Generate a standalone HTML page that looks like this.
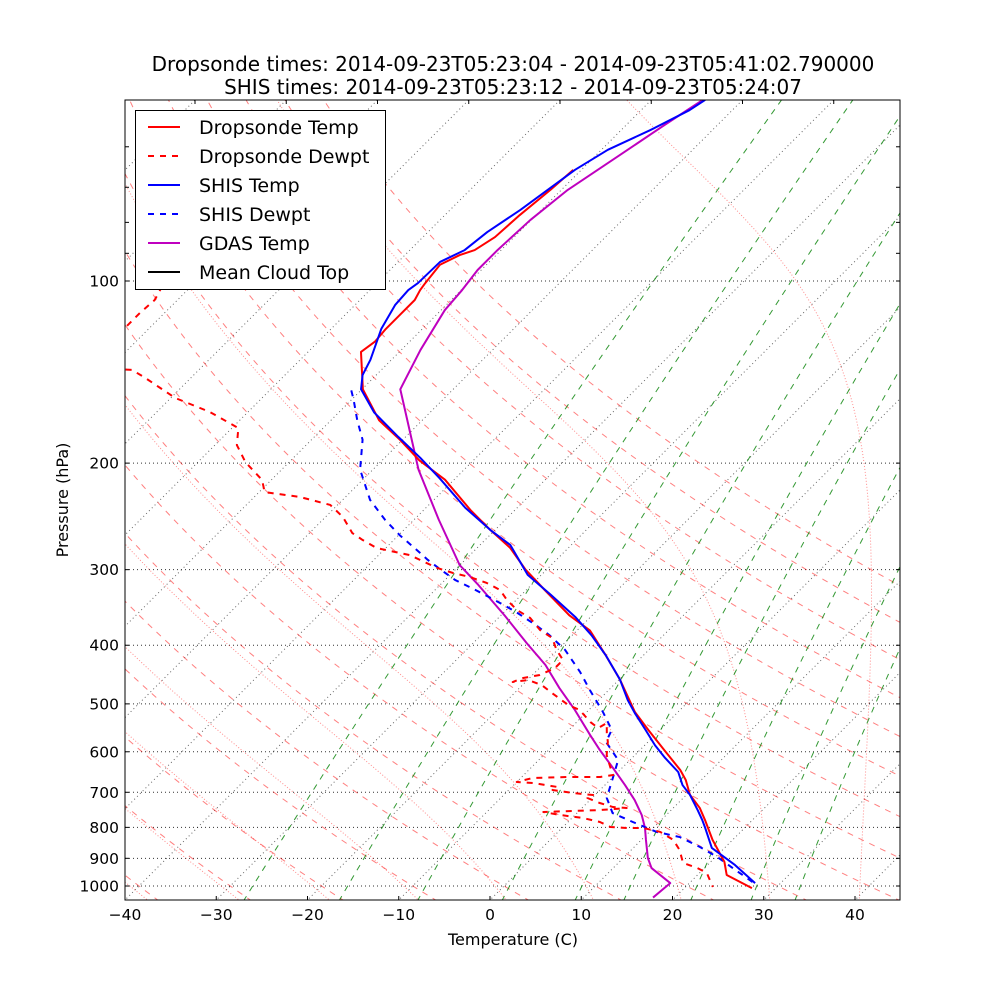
<!DOCTYPE html>
<html><head><meta charset="utf-8"><style>
html,body{margin:0;padding:0;background:#fff;}
svg{display:block;font-family:"DejaVu Sans","Liberation Sans",sans-serif;}
</style></head><body>
<svg id="chart" width="1000" height="1000" viewBox="0 0 1000 1000" xmlns="http://www.w3.org/2000/svg">
<rect x="0" y="0" width="1000" height="1000" fill="#fff"/>
<defs><clipPath id="plotclip"><rect x="125" y="100" width="775" height="800"/></clipPath></defs>
<text x="513" y="71" text-anchor="middle" font-size="20">Dropsonde times: 2014-09-23T05:23:04 - 2014-09-23T05:41:02.790000</text>
<text x="513" y="94" text-anchor="middle" font-size="20">SHIS times: 2014-09-23T05:23:12 - 2014-09-23T05:24:07</text>
<g id="bg" clip-path="url(#plotclip)"></g>
<g id="data" clip-path="url(#plotclip)"></g>
<g id="axes"></g>
<text x="513" y="945" text-anchor="middle" font-size="16">Temperature (C)</text>
<text x="68" y="500" text-anchor="middle" font-size="16" transform="rotate(-90 68 500)">Pressure (hPa)</text>
<g id="legend"></g>
</svg>
<script>
// ---- data (pressure hPa, temperature C) ----
const dropP=[1008,959,912,839,778,743,707,668,643,600,552,516,456,415,378,357,324,300,276,258,239,213,198,183,170,151,131,126,120,114,107.5,103.5,100.8,94,90.6,88.9,84.6,77.8,70.7,65.5];
const dropT=[27.4,23.2,21.5,17.8,14.8,12.9,10.4,8.3,6.6,3.0,-1.3,-4.7,-9.9,-14.2,-18.6,-22.5,-28,-32.3,-36.4,-40.5,-44.9,-51,-55.9,-60.3,-64.7,-69.9,-74.2,-73.8,-74,-74,-74,-74.5,-74.7,-75.1,-74,-72.9,-72.1,-71.8,-71.2,-70.9];
const dropDP=[95,102.7,107.5,112.9,119.1,125,138,140.3,144.6,156.1,164.6,175,186.7,199.2,213.3,223.3,227.5,234.5,245.5,261,268,276.3,283.8,298,303.8,308.5,315.6,324,336.8,349.9,360.6,377.5,389.1,407.3,423.1,436.3,447.9,453.1,460.1,456.6,465.4,479.7,502.1,511.8,535.8,548.1,537.8,558.6,578.1,607.5,635.8,655.4,660.4,660.4,663,673.1,675.7,686,694,702,707.3,715.4,729.2,740.4,743.3,749,751.6,754.6,763.2,772,783.8,798.8,801.8,801.8,814,839,872,916.2,933.6,951.7,977.5,1003.8];
const dropTd=[-103.5,-103.1,-102.5,-102.7,-102.7,-110,-105,-97.3,-95,-89.5,-84.2,-79.3,-77.6,-74.8,-71,-69.4,-65,-60.8,-58.1,-55.3,-53.4,-51,-46.6,-42.2,-39.9,-37.6,-35.1,-32.9,-31,-28.8,-26.5,-24.1,-21.9,-20.1,-18.3,-18.3,-19.2,-20.7,-21.4,-19.9,-17.9,-15.9,-12.8,-11,-8.5,-7,-6.6,-5.5,-4.4,-3.1,-1.4,-0.2,-1.4,-5,-8.7,-10,-8.1,-5,-5.2,-2.6,-0.2,-0.5,1.4,3.3,4.9,2.2,-0.7,-3.8,-1.6,1.2,3.5,5.2,7.1,8.9,11.2,13.5,15.3,17.1,19.2,20.8,21.9,23];
const shisP=[989,923,865,802,778,749,707,681,648,614,585,552,518,493,456,415,385,359,330,306,273,258,237,212,196,181,165,151,143,135,120,109.6,103.5,100.8,93,88.9,83,76.3,65.5,60.7,56.3,52.2,50.2];
const shisT=[27.2,23,18.6,15.7,14.5,12.9,10.4,8.5,6.6,3.6,1.1,-1.6,-4.6,-6.8,-9.9,-14.2,-17.9,-21.7,-26.8,-31.5,-36.7,-40.5,-45.7,-51.7,-56.1,-60.8,-66.1,-70.1,-71.5,-72.3,-74.5,-75.6,-75.8,-75.5,-75.4,-74,-73.5,-72.3,-70.7,-69.3,-66.8,-64.7,-64.1];
const shisDP=[985,934,895.5,862,830,814,783.8,757.5,715,660,619,578,552,516,474,443,407,385,370,352,337,324,312,300,289,281,263,248,230,205,183,170,157,151];
const shisTd=[26.8,23.1,20.2,17.2,13.9,10.8,7.1,3.9,1.6,0,-1.3,-4.6,-5.3,-8.2,-12.1,-15.1,-19.2,-22.5,-25.2,-28.8,-32.3,-35.6,-38.9,-41.6,-44.1,-45.8,-49.9,-53.2,-57,-61.4,-64.4,-67.1,-69.8,-71.2];
const gdasP=[1045,989,934,899,839,802,763,721,681,638,596,563,512,471,431,397,357,318,295,248,205,151,130,111.7,103.5,95.9,88.9,79.3,70.7,61.9,55.2,50];
const gdasT=[17.6,17.9,14.2,12.7,10.5,9.1,7.3,4.9,2.2,-1,-4.4,-7.1,-11.5,-15.6,-19.7,-24.1,-29.6,-35.8,-40,-47.3,-55,-65.8,-67.9,-69.6,-69.9,-70.4,-70.4,-70.1,-69.3,-67.4,-65.8,-64.3];
const xTicks=[-40,-30,-20,-10,0,10,20,30,40];
const yTickLabels=[100,200,300,400,500,600,700,800,900,1000];
const yMinorTicks=[60,70,80,90];
const dryThetaC=[-60,-50,-40,-30,-20,-10,0,10,20,30,40,50,60,70,80,90,100,110,120];
const moistT0=[-51,-41,-31,-21,-11,-1,9,19,29,39];
const mixRatios=[0.0004,0.001,0.002,0.004,0.007,0.01,0.016,0.024,0.032];

// ---- axis functions ----
const X0=125,X1=900,Y0=100,Y1=900,PXC=9.125;
function yP(p){return 281+605*Math.log10(p/100);}
function xTP(T,p){return X0+(T+40)*PXC+(Y1-yP(p));}
const NS='http://www.w3.org/2000/svg';
function mk(tag,attrs,parent){const e=document.createElementNS(NS,tag);for(const k in attrs)e.setAttribute(k,attrs[k]);parent.appendChild(e);return e;}
function pathFrom(ps,ts){let d='';for(let i=0;i<ps.length;i++){d+=(i?'L':'M')+xTP(ts[i],ps[i]).toFixed(2)+' '+yP(ps[i]).toFixed(2);}return d;}
const bg=document.getElementById('bg'),dg=document.getElementById('data'),ax=document.getElementById('axes'),lg=document.getElementById('legend');
const pLevels=[];for(let i=0;i<=80;i++)pLevels.push(1060*Math.pow(45/1060,i/80));

// horizontal grid
yTickLabels.forEach(p=>{const l=mk('line',{x1:X0,x2:X1,y1:yP(p),y2:yP(p),stroke:'#000','stroke-width':1,'stroke-dasharray':'1,3',opacity:0.8},bg);

});
// isotherms
for(let T=-140;T<=50;T+=10){const l=mk('line',{x1:xTP(T,1060),y1:yP(1060),x2:xTP(T,45),y2:yP(45),stroke:'#000','stroke-width':1,'stroke-dasharray':'1,3',opacity:0.6},bg);

}
// dry adiabats
dryThetaC.forEach(tc=>{const th=tc+273.15;const ts=pLevels.map(p=>th*Math.pow(p/1000,0.2857)-273.15);
const e=mk('path',{d:pathFrom(pLevels,ts),fill:'none',stroke:'#ff0000','stroke-opacity':0.5,'stroke-width':1,'stroke-dasharray':'6,6'},bg);

});
// moist adiabats
function es(T){return 6.112*Math.exp(17.67*(T-273.15)/(T-29.65));}
function dTdp(p,T){const e=es(T);const rs=0.622*e/Math.max(p-e,1e-3);const Rd=287.04,Cp=1005.7,Lv=2.501e6;return (Rd*T+Lv*rs)/(p*(Cp+Lv*Lv*rs*0.622/(Rd*T*T)));}
function integ(T0,pEnd){const ps=[1000],ts=[T0+273.15];let p=1000,T=T0+273.15;const n=300;const dp=(pEnd-1000)/n;
for(let i=0;i<n;i++){const k1=dTdp(p,T);const k2=dTdp(p+dp/2,T+k1*dp/2);T+=k2*dp;p+=dp;ps.push(p);ts.push(T);}return [ps,ts];}
moistT0.forEach(t0=>{const up=integ(t0,45),dn=integ(t0,1060);const ps=dn[0].slice().reverse().concat(up[0].slice(1));const ts=dn[1].slice().reverse().concat(up[1].slice(1)).map(t=>t-273.15);
const e=mk('path',{d:pathFrom(ps,ts),fill:'none',stroke:'#ff0000','stroke-opacity':0.45,'stroke-width':1,'stroke-dasharray':'1,2'},bg);

});
// mixing ratio lines
mixRatios.forEach(w=>{const ts=pLevels.map(p=>{const e=p*w/(0.622+w);const x=Math.log(e/6.112);return 243.5*x/(17.67-x);});
const e=mk('path',{d:pathFrom(pLevels,ts),fill:'none',stroke:'#008000','stroke-opacity':0.8,'stroke-width':1,'stroke-dasharray':'6,6'},bg);

});

// data series
function series(ps,ts,color,dash,name){const e=mk('path',{d:pathFrom(ps,ts),fill:'none',stroke:color,'stroke-width':2,'stroke-linejoin':'round'},dg);
if(dash)e.setAttribute('stroke-dasharray',dash);

}
series(gdasP,gdasT,'#bf00bf',null,'gdas-temp-line');
series(shisDP,shisTd,'#0000ff','6,6','shis-dewpt-line');
series(dropDP,dropTd,'#ff0000','6,6','dropsonde-dewpt-line');
series(dropP,dropT,'#ff0000',null,'dropsonde-temp-line');
series(shisP,shisT,'#0000ff',null,'shis-temp-line');

// frame and ticks
const fr=mk('rect',{x:X0,y:Y0,width:X1-X0,height:Y1-Y0,fill:'none',stroke:'#000','stroke-width':1},ax);


xTicks.forEach(T=>{const x=X0+(T+40)*PXC;
const t=mk('line',{x1:x,x2:x,y1:Y1,y2:Y1-4,stroke:'#000'},ax);


const tx=mk('text',{x:x,y:920,'text-anchor':'middle','font-size':15.5},ax);tx.textContent=(T<0?'\u2212'+(-T):String(T));

});
for(let T=-120;T<=-50;T+=10){const x=X0+(T+40)*PXC+800;
const t=mk('line',{x1:x,x2:x,y1:Y0,y2:Y0+4,stroke:'#000'},ax);

}
yTickLabels.concat(yMinorTicks).forEach(p=>{const y=yP(p);
const a=mk('line',{x1:X0,x2:X0+4,y1:y,y2:y,stroke:'#000'},ax);


const b=mk('line',{x1:X1,x2:X1-4,y1:y,y2:y,stroke:'#000'},ax);

});
yTickLabels.forEach(p=>{const t=mk('text',{x:119,y:yP(p)+5.5,'text-anchor':'end','font-size':15.5},ax);t.textContent=String(p);

});

// legend
const lb=mk('rect',{x:135.5,y:110.5,width:250,height:179,fill:'#fff',stroke:'#000','stroke-width':1},lg);


const legNames=['Dropsonde Temp','Dropsonde Dewpt','SHIS Temp','SHIS Dewpt','GDAS Temp','Mean Cloud Top'];
const legColors=['#ff0000','#ff0000','#0000ff','#0000ff','#bf00bf','#000000'];
const legDash=[null,'6,6',null,'6,6',null,null];
legNames.forEach((n,i)=>{const y=127+i*29;
const l=mk('line',{x1:148,x2:180,y1:y,y2:y,stroke:legColors[i],'stroke-width':2},lg);
if(legDash[i])l.setAttribute('stroke-dasharray',legDash[i]);


const t=mk('text',{x:199,y:y+7,'font-size':19},lg);t.textContent=n;

});
</script>
</body></html>
